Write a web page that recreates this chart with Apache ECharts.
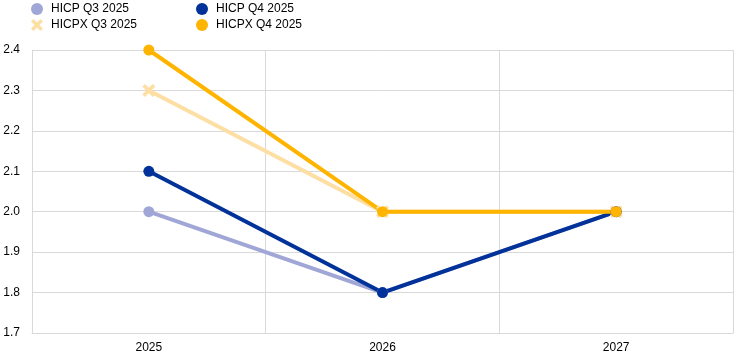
<!DOCTYPE html>
<html><head><meta charset="utf-8">
<script src="https://cdn.jsdelivr.net/npm/echarts@6/dist/echarts.min.js"></script>
<style>html,body{margin:0;padding:0;background:#fff}#c{width:744px;height:360px}</style>
</head><body><div id="c"></div>
<script>
const categories = ['2025', '2026', '2027'];
const hicpQ3 = [2.0, 1.8, 2.0];
const hicpxQ3 = [2.3, 2.0, 2.0];
const hicpQ4 = [2.1, 1.8, 2.0];
const hicpxQ4 = [2.4, 2.0, 2.0];
const yTicks = { min: 1.7, max: 2.4, interval: 0.1 };

const crossPath = 'path://M2,0 L5,3 L8,0 L10,2 L7,5 L10,8 L8,10 L5,7 L2,10 L0,8 L3,5 L0,2 Z';
const font = 'Liberation Sans, Arial, sans-serif';
const colors = { hq3: '#a0a7d6', hq4: '#003299', xq3: '#fddea3', xq4: '#ffb400' };

function mkSeries(name, data, color, symbol, size) {
  return { name, type: 'line', data, symbol, symbolSize: size, showSymbol: true,
    lineStyle: { color, width: 4 }, itemStyle: { color }, emphasis: { disabled: true }, animation: false };
}
function mkLegend(name, left, top, icon) {
  return { data: [{ name, icon }], left, top, itemWidth: 12, itemHeight: 12, itemGap: 0,
    textStyle: { fontFamily: font, fontSize: 12, color: '#000', padding: [0, 0, 0, 3] }, padding: 0 };
}

const chart = echarts.init(document.getElementById('c'), null, { renderer: 'canvas' });
chart.setOption({
  animation: false,
  legend: [
    mkLegend('HICP Q3 2025', 31, 3, 'circle'),
    mkLegend('HICP Q4 2025', 196, 3, 'circle'),
    mkLegend('HICPX Q3 2025', 31, 19, crossPath),
    mkLegend('HICPX Q4 2025', 196, 19, 'circle')
  ],
  grid: { left: 32, right: 11, top: 50, bottom: 27, containLabel: false },
  xAxis: {
    type: 'category', data: categories, boundaryGap: true,
    axisLine: { show: true, lineStyle: { color: '#d9d9d9', width: 1 } },
    axisTick: { show: false },
    splitLine: { show: true, lineStyle: { color: '#d9d9d9', width: 1 } },
    axisLabel: { fontFamily: font, fontSize: 12, color: '#000', margin: 9 }
  },
  yAxis: {
    type: 'value', min: yTicks.min, max: yTicks.max, interval: yTicks.interval,
    axisLine: { show: true, lineStyle: { color: '#d9d9d9', width: 1 } },
    axisTick: { show: false },
    splitLine: { show: true, lineStyle: { color: '#d9d9d9', width: 1 } },
    axisLabel: { fontFamily: font, fontSize: 12, color: '#000', margin: 12, formatter: v => v.toFixed(1) }
  },
  series: [
    mkSeries('HICP Q3 2025', hicpQ3, colors.hq3, 'circle', 11),
    mkSeries('HICPX Q3 2025', hicpxQ3, colors.xq3, crossPath, 13),
    mkSeries('HICP Q4 2025', hicpQ4, colors.hq4, 'circle', 11),
    mkSeries('HICPX Q4 2025', hicpxQ4, colors.xq4, 'circle', 11)
  ]
});
</script></body></html>
